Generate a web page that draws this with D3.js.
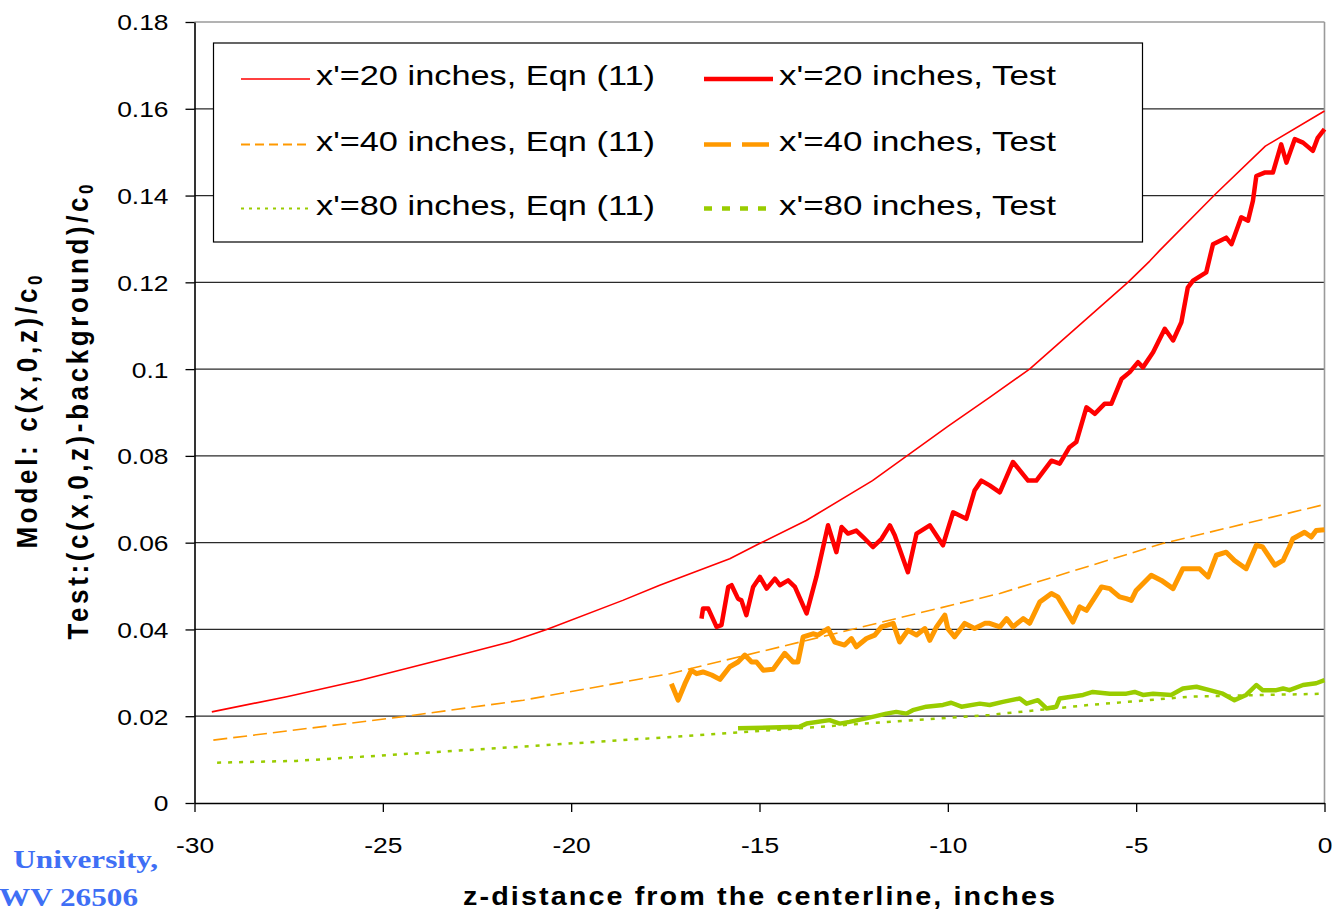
<!DOCTYPE html>
<html>
<head>
<meta charset="utf-8">
<script src="https://cdn.jsdelivr.net/npm/d3@7"></script>
<style>
  html, body { margin: 0; padding: 0; background: #fff; overflow: hidden; }
  svg { display: block; }
</style>
</head>
<body>
<svg id="chart" width="1336" height="911"></svg>
<script>
// ---------------- DATA ----------------
const xTickValues = [-30, -25, -20, -15, -10, -5, 0];
const xTickLabels = ["-30", "-25", "-20", "-15", "-10", "-5", "0"];
const yTickValues = [0, 0.02, 0.04, 0.06, 0.08, 0.1, 0.12, 0.14, 0.16, 0.18];
const yTickLabels = ["0", "0.02", "0.04", "0.06", "0.08", "0.1", "0.12", "0.14", "0.16", "0.18"];

const seriesNames = [
  "x'=20 inches, Eqn (11)", "x'=40 inches, Eqn (11)", "x'=80 inches, Eqn (11)",
  "x'=20 inches, Test", "x'=40 inches, Test", "x'=80 inches, Test"
];

// [z (inches), concentration ratio]
const eqn20 = [[-29.54,0.0210],[-27.55,0.0245],[-25.6,0.0283],[-22.78,0.0345],[-21.63,0.0371],[-20.65,0.0400],[-18.63,0.0467],[-17.65,0.0502],[-15.79,0.0563],[-15.0,0.0598],[-13.76,0.0651],[-12.0,0.0743],[-10.0,0.0868],[-8.89,0.0935],[-7.83,0.1000],[-5.22,0.1200],[-4.64,0.1249],[-4.38,0.1273],[-2.9,0.1403],[-1.57,0.1514],[0,0.1595]];
const eqn40 = [[-29.5,0.0145],[-24.46,0.0199],[-21.27,0.0237],[-17.38,0.0298],[-8.62,0.0483],[-4.3,0.0598],[0,0.0688]];
const eqn80 = [[-29.4,0.0093],[-27.3,0.0097],[-21.3,0.0130],[-17.2,0.0153],[-13.85,0.0173],[-8.9,0.0203],[-6.23,0.0226],[-3.58,0.0245],[0,0.0252]];

const test20 = [[-16.54,0.0425],[-16.50,0.0448],[-16.36,0.0448],[-16.14,0.0406],[-16.01,0.0410],[-15.83,0.0498],[-15.74,0.0502],[-15.57,0.0471],[-15.48,0.0467],[-15.35,0.0433],[-15.17,0.0498],[-14.99,0.0521],[-14.81,0.0494],[-14.59,0.0517],[-14.46,0.0502],[-14.24,0.0513],[-14.06,0.0498],[-13.75,0.0437],[-13.49,0.0521],[-13.31,0.0590],[-13.18,0.0640],[-12.96,0.0578],[-12.82,0.0636],[-12.65,0.0621],[-12.43,0.0628],[-12.25,0.0613],[-11.99,0.0590],[-11.76,0.0609],[-11.54,0.0640],[-11.41,0.0617],[-11.06,0.0532],[-10.83,0.0621],[-10.48,0.0640],[-10.13,0.0594],[-9.86,0.0670],[-9.51,0.0655],[-9.29,0.0720],[-9.11,0.0743],[-8.89,0.0732],[-8.62,0.0716],[-8.27,0.0786],[-7.87,0.0743],[-7.65,0.0743],[-7.25,0.0789],[-7.03,0.0782],[-6.77,0.0820],[-6.59,0.0832],[-6.32,0.0912],[-6.10,0.0897],[-5.84,0.0920],[-5.66,0.0920],[-5.39,0.0977],[-5.17,0.0993],[-4.95,0.1016],[-4.82,0.1004],[-4.55,0.1039],[-4.24,0.1093],[-4.02,0.1066],[-3.80,0.1108],[-3.63,0.1188],[-3.49,0.1204],[-3.14,0.1223],[-2.96,0.1288],[-2.61,0.1303],[-2.47,0.1288],[-2.21,0.1350],[-2.03,0.1342],[-1.90,0.1388],[-1.81,0.1445],[-1.59,0.1453],[-1.37,0.1453],[-1.15,0.1518],[-1.01,0.1476],[-0.79,0.1530],[-0.57,0.1522],[-0.31,0.1503],[-0.18,0.1533],[0,0.1553]];
const test40 = [[-17.34,0.0275],[-17.16,0.0237],[-16.98,0.0275],[-16.81,0.0306],[-16.67,0.0298],[-16.50,0.0302],[-16.27,0.0295],[-16.05,0.0285],[-15.79,0.0314],[-15.57,0.0325],[-15.39,0.0341],[-15.21,0.0325],[-15.08,0.0325],[-14.90,0.0306],[-14.64,0.0308],[-14.33,0.0345],[-14.11,0.0325],[-13.98,0.0325],[-13.84,0.0383],[-13.58,0.0390],[-13.45,0.0387],[-13.18,0.0402],[-13.00,0.0371],[-12.74,0.0364],[-12.56,0.0379],[-12.43,0.0360],[-12.16,0.0379],[-11.94,0.0387],[-11.76,0.0406],[-11.45,0.0414],[-11.28,0.0371],[-11.06,0.0398],[-10.83,0.0387],[-10.61,0.0402],[-10.48,0.0375],[-10.30,0.0406],[-10.08,0.0433],[-10.00,0.0402],[-9.82,0.0383],[-9.55,0.0414],[-9.29,0.0402],[-9.02,0.0414],[-8.89,0.0414],[-8.62,0.0406],[-8.44,0.0425],[-8.27,0.0406],[-8.00,0.0425],[-7.83,0.0414],[-7.56,0.0463],[-7.25,0.0483],[-7.08,0.0475],[-6.68,0.0417],[-6.50,0.0452],[-6.32,0.0444],[-5.92,0.0498],[-5.70,0.0494],[-5.44,0.0475],[-5.26,0.0471],[-5.13,0.0467],[-5.00,0.0490],[-4.60,0.0525],[-4.33,0.0513],[-4.02,0.0494],[-3.76,0.0540],[-3.54,0.0540],[-3.32,0.0540],[-3.09,0.0521],[-2.87,0.0571],[-2.61,0.0578],[-2.39,0.0559],[-2.08,0.0540],[-1.81,0.0594],[-1.64,0.0590],[-1.32,0.0548],[-1.10,0.0559],[-0.93,0.0590],[-0.84,0.0609],[-0.53,0.0624],[-0.35,0.0613],[-0.22,0.0628],[0,0.0630]];
const test80 = [[-15.57,0.0172],[-13.93,0.0176],[-13.75,0.0183],[-13.14,0.0191],[-12.87,0.0183],[-12.61,0.0187],[-12.17,0.0195],[-11.63,0.0206],[-11.37,0.0210],[-11.10,0.0206],[-10.93,0.0214],[-10.57,0.0222],[-10.13,0.0226],[-9.91,0.0231],[-9.64,0.0222],[-9.15,0.0229],[-8.89,0.0226],[-8.54,0.0233],[-8.09,0.0241],[-7.91,0.0229],[-7.61,0.0237],[-7.38,0.0218],[-7.12,0.0222],[-7.03,0.0241],[-6.41,0.0249],[-6.15,0.0256],[-5.70,0.0252],[-5.26,0.0252],[-5.04,0.0256],[-4.82,0.0249],[-4.55,0.0252],[-4.07,0.0249],[-3.76,0.0264],[-3.40,0.0268],[-3.05,0.0260],[-2.70,0.0252],[-2.39,0.0237],[-2.08,0.0249],[-1.81,0.0272],[-1.64,0.0260],[-1.28,0.0260],[-1.10,0.0264],[-0.93,0.0260],[-0.57,0.0272],[-0.22,0.0276],[0,0.0283]];

const footerLines = ["University,", "WV 26506"];

// ---------------- LAYOUT / STYLE ----------------
const svg = d3.select("#chart");
const L = 194.5, R = 1324.5, T = 22, B = 803;
const STRETCH = 1.2;
const x = d3.scaleLinear().domain([-30, 0]).range([L, R]);
const y = d3.scaleLinear().domain([0, 0.18]).range([B, T]);
const FONT = "'Liberation Sans', Arial, Helvetica, sans-serif";

const styles = [
  { data: eqn20, color: "#ff0000", width: 1.6, dash: null, legW: 1.6, legDash: null },
  { data: eqn40, color: "#ff9900", width: 1.6, dash: "14,6", legW: 2, legDash: "9,5" },
  { data: eqn80, color: "#99cc00", width: 2.5, dash: "4,7", legW: 2, legDash: "3,5" },
  { data: test20, color: "#ff0000", width: 4.5, dash: null, legW: 4.5, legDash: null },
  { data: test40, color: "#ff9900", width: 5, dash: null, legW: 4.5, legDash: "27,11" },
  { data: test80, color: "#99cc00", width: 4.5, dash: null, legW: 4.5, legDash: "8,10" }
];

// gridlines
svg.append("g").selectAll("line")
  .data(yTickValues.filter(v => v > 0 && v < 0.18))
  .join("line")
  .attr("x1", L).attr("x2", R)
  .attr("y1", d => y(d)).attr("y2", d => y(d))
  .attr("stroke", "#2a2a2a").attr("stroke-width", 1.2);

// plot border (top / right)
svg.append("line").attr("x1", L).attr("x2", R).attr("y1", T).attr("y2", T)
  .attr("stroke", "#9a9a9a").attr("stroke-width", 1.6);
svg.append("line").attr("x1", R).attr("x2", R).attr("y1", T).attr("y2", B)
  .attr("stroke", "#9a9a9a").attr("stroke-width", 1.6);

// series
const line = d3.line().x(d => x(d[0])).y(d => y(d[1]));
styles.forEach(s => {
  svg.append("path")
    .attr("d", line(s.data))
    .attr("fill", "none")
    .attr("stroke", s.color)
    .attr("stroke-width", s.width)
    .attr("stroke-linejoin", "round")
    .attr("stroke-linecap", "butt")
    .attr("stroke-dasharray", s.dash);
});

// axes
const yAxis = svg.append("g").attr("transform", `translate(${L},0)`)
  .call(d3.axisLeft(y).tickValues(yTickValues).tickFormat((d, i) => yTickLabels[i]).tickSize(9).tickSizeOuter(0));
const xAxis = svg.append("g").attr("transform", `translate(0,${B})`)
  .call(d3.axisBottom(x).tickValues(xTickValues).tickFormat((d, i) => xTickLabels[i]).tickSize(9).tickSizeOuter(0));
[yAxis, xAxis].forEach(a => {
  a.select(".domain").attr("stroke", "#000").attr("stroke-width", 1.6);
  a.selectAll(".tick line").attr("stroke", "#000").attr("stroke-width", 1.3);
  a.selectAll("text").attr("font-family", FONT).attr("font-size", 22).attr("fill", "#000");
});
yAxis.selectAll("text")
  .attr("x", -26 / STRETCH).attr("dy", "0.36em")
  .attr("transform", `scale(${STRETCH},1)`);
xAxis.selectAll("text")
  .attr("y", 0).attr("dy", 50)
  .attr("transform", `scale(${STRETCH},1)`);

// axis titles
const TS = 1.15;
svg.append("text")
  .attr("transform", `translate(759,905) scale(${TS},1)`)
  .attr("text-anchor", "middle")
  .attr("font-family", FONT).attr("font-weight", "bold").attr("font-size", 25)
  .attr("textLength", 592 / TS).attr("lengthAdjust", "spacing")
  .text("z-distance from the centerline, inches");

function yTitle(cx, len, main) {
  const t = svg.append("text")
    .attr("transform", `translate(${cx},412) scale(${TS},1) rotate(-90)`)
    .attr("text-anchor", "middle")
    .attr("font-family", FONT).attr("font-weight", "bold").attr("font-size", 26)
    .attr("textLength", len).attr("lengthAdjust", "spacing");
  t.append("tspan").text(main);
  t.append("tspan").attr("font-size", 17).attr("dy", 4).text("0");
}
yTitle(37, 273, "Model: c(x,0,z)/c");
yTitle(88, 455, "Test:(c(x,0,z)-background)/c");

// legend
const lg = svg.append("g");
lg.append("rect").attr("x", 213.5).attr("y", 43).attr("width", 929).attr("height", 199)
  .attr("fill", "#fff").attr("stroke", "#000").attr("stroke-width", 1.2);
const rowY = [79, 144.5, 208.5];
const colX = [241, 704];
const textLen = [339, 277];
styles.forEach((s, i) => {
  const col = i < 3 ? 0 : 1, row = i % 3;
  lg.append("line")
    .attr("x1", colX[col]).attr("x2", colX[col] + 69)
    .attr("y1", rowY[row]).attr("y2", rowY[row])
    .attr("stroke", s.color).attr("stroke-width", s.legW)
    .attr("stroke-dasharray", s.legDash);
  lg.append("text")
    .attr("x", colX[col] + 75).attr("y", rowY[row] + 6)
    .attr("font-family", FONT).attr("font-size", 28)
    .attr("textLength", textLen[col]).attr("lengthAdjust", "spacingAndGlyphs")
    .text(seriesNames[i]);
});

// footer text
const blue = "#3f6ff5";
const footerPos = [[158, 868], [138, 906]];
footerLines.forEach((t, i) => {
  svg.append("text")
    .attr("transform", `translate(${footerPos[i][0]},${footerPos[i][1]}) scale(1.2,1)`)
    .attr("text-anchor", "end")
    .attr("font-family", "'Liberation Serif', 'Times New Roman', serif")
    .attr("font-weight", "bold").attr("font-size", 26).attr("fill", blue)
    .text(t);
});
</script>
</body>
</html>
